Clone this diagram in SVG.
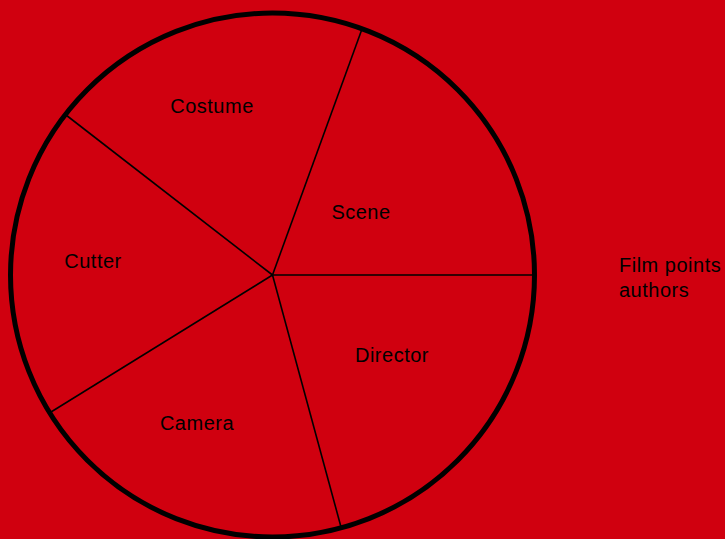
<svg xmlns="http://www.w3.org/2000/svg" width="725" height="539" viewBox="0 0 725 539">
<style>
.lbl{font-family:"Liberation Sans",Arial,sans-serif;font-size:20px;letter-spacing:0.5px;fill:#000;}
.mid{text-anchor:middle;}
.sp{stroke:#000;stroke-width:1.6;fill:none;}
</style>
<rect x="0" y="0" width="725" height="539" fill="#d0000f"/>
<g id="pie">
<circle cx="272.5" cy="275" r="262" fill="none" stroke="#000" stroke-width="5"/>
</g>
<g id="connectors">
<line class="sp" x1="272.5" y1="275" x2="362" y2="29"/>
<line class="sp" x1="272.5" y1="275" x2="66" y2="115"/>
<line class="sp" x1="272.5" y1="275" x2="51" y2="412"/>
<line class="sp" x1="272.5" y1="275" x2="341" y2="527"/>
<line class="sp" x1="272.5" y1="275" x2="534" y2="275"/>
</g>
<g id="costume"><text class="lbl mid" x="212" y="113">Costume</text></g>
<g id="scene"><text class="lbl mid" x="361" y="219">Scene</text></g>
<g id="cutter"><text class="lbl mid" x="93" y="268">Cutter</text></g>
<g id="director"><text class="lbl mid" x="392" y="362">Director</text></g>
<g id="camera"><text class="lbl mid" x="197" y="430">Camera</text></g>
<g id="legend"><text class="lbl" x="619" y="272">Film points</text><text class="lbl" x="619" y="297">authors</text></g>
</svg>
